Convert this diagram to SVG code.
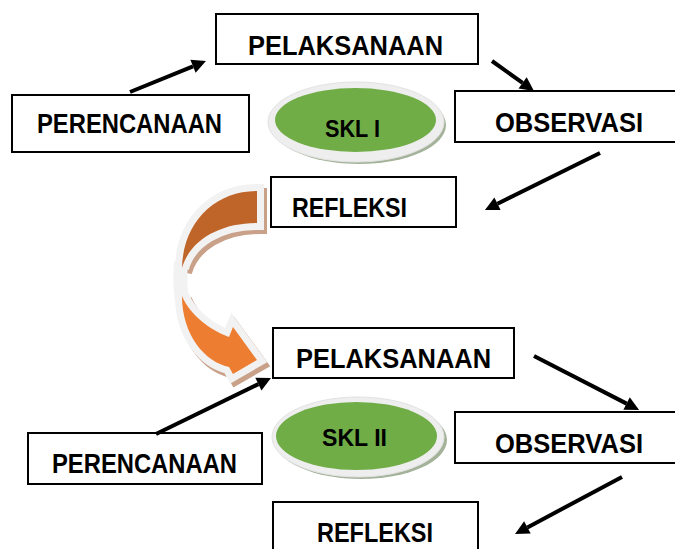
<svg xmlns="http://www.w3.org/2000/svg" width="675" height="549" viewBox="0 0 675 549">
<style>
.box{fill:#fff;stroke:#000;stroke-width:2}
.lbl{font-family:"Liberation Sans",Arial,sans-serif;font-weight:bold;font-size:27px;fill:#000}
.skl{font-family:"Liberation Sans",Arial,sans-serif;font-weight:bold;font-size:24px;fill:#000}
.conn{stroke:#000;stroke-width:4;fill:none;marker-end:url(#ah)}
.ring{fill:#EEEEEE;stroke:#E2E2E2;stroke-width:1}
.eshadow{fill:#A3B299}
.green{fill:#70AD47}
.out{stroke:#F2F2F2;stroke-width:14;stroke-linejoin:miter;paint-order:stroke}
.tan{fill:#C9A088;stroke:#C9A088;stroke-width:14}
</style>
<defs>
<marker id="ah" markerUnits="userSpaceOnUse" markerWidth="16" markerHeight="16" viewBox="0 -8 16 16" refX="0" refY="0" orient="auto" overflow="visible">
<path d="M0,-7 L14,0 L0,7 Z" fill="#000"/>
</marker>
</defs>

<g id="curved-arrow">
<path class="tan" transform="translate(3,4)" d="M257,191 C215,191 183,222 182,268 C190,240 220,223 257,223 Z"/>
<path d="M181,262 C180,275 180,288 182,300" fill="none" stroke="#F2F2F2" stroke-width="14"/>
<path class="out" fill="#C0652A" d="M257,191 C215,191 183,222 182,268 C190,240 220,223 257,223 Z"/>
<path class="tan" transform="translate(3,4)" d="M182,296 C182,335 205,362 229,367 L233,374 L257,360 L233,327 L229,337 C210,330 190,315 182,296 Z"/>
<path class="out" fill="#ED7D31" d="M182,296 C182,335 205,362 229,367 L233,374 L257,360 L233,327 L229,337 C210,330 190,315 182,296 Z"/>
</g>

<g id="skl1">
<ellipse class="eshadow" cx="359" cy="125" rx="87" ry="39"/>
<ellipse class="ring" cx="356" cy="122" rx="88" ry="40"/>
<ellipse class="green" cx="355.5" cy="120" rx="80.5" ry="32"/>
<text class="skl" x="325" y="137" textLength="55" lengthAdjust="spacingAndGlyphs">SKL I</text>
</g>

<g id="skl2">
<ellipse class="eshadow" cx="361" cy="440" rx="86" ry="39"/>
<ellipse class="ring" cx="358" cy="437" rx="86" ry="40"/>
<ellipse class="green" cx="356.5" cy="436" rx="80.5" ry="34"/>
<text class="skl" x="322" y="446" textLength="65" lengthAdjust="spacingAndGlyphs">SKL  II</text>
</g>

<g id="pelaksanaan1">
<rect class="box" x="216" y="14" width="262" height="50"/>
<text class="lbl" x="248" y="55" textLength="195" lengthAdjust="spacingAndGlyphs">PELAKSANAAN</text>
</g>
<g id="perencanaan1">
<rect class="box" x="12" y="95" width="237" height="57"/>
<text class="lbl" x="37" y="133" textLength="185" lengthAdjust="spacingAndGlyphs">PERENCANAAN</text>
</g>
<g id="observasi1">
<rect class="box" x="455" y="91" width="235" height="51"/>
<text class="lbl" x="495" y="132" textLength="148" lengthAdjust="spacingAndGlyphs">OBSERVASI</text>
</g>
<g id="refleksi1">
<rect class="box" x="271" y="177" width="185" height="50"/>
<text class="lbl" x="292" y="217" textLength="115" lengthAdjust="spacingAndGlyphs">REFLEKSI</text>
</g>

<g id="pelaksanaan2">
<rect class="box" x="273" y="328" width="241" height="50"/>
<text class="lbl" x="296" y="368" textLength="195" lengthAdjust="spacingAndGlyphs">PELAKSANAAN</text>
</g>
<g id="perencanaan2">
<rect class="box" x="28" y="433" width="234" height="51"/>
<text class="lbl" x="52" y="473" textLength="185" lengthAdjust="spacingAndGlyphs">PERENCANAAN</text>
</g>
<g id="observasi2">
<rect class="box" x="455" y="412" width="235" height="51"/>
<text class="lbl" x="495" y="453" textLength="148" lengthAdjust="spacingAndGlyphs">OBSERVASI</text>
</g>
<g id="refleksi2">
<rect class="box" x="273" y="502" width="205" height="60"/>
<text class="lbl" x="317" y="542" textLength="116" lengthAdjust="spacingAndGlyphs">REFLEKSI</text>
</g>

<g id="connectors">
<line class="conn" x1="130" y1="92" x2="193" y2="66.3"/>
<line class="conn" x1="492" y1="61" x2="522.6" y2="82.9"/>
<line class="conn" x1="600" y1="153" x2="497.5" y2="203.8"/>
<line class="conn" x1="156" y1="434" x2="258.4" y2="384.1"/>
<line class="conn" x1="534" y1="356" x2="626.6" y2="403.6"/>
<line class="conn" x1="622" y1="477" x2="527.4" y2="527.4"/>
</g>
</svg>
